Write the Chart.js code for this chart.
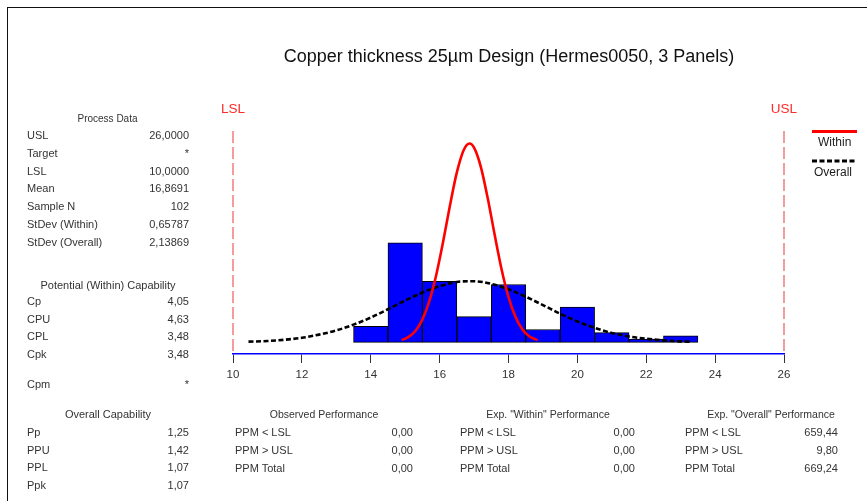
<!DOCTYPE html>
<html>
<head>
<meta charset="utf-8">
<title>Copper thickness capability</title>
<script src="https://cdn.jsdelivr.net/npm/chart.js@4.4.1/dist/chart.umd.min.js"></script>
<style>
  html, body { margin: 0; padding: 0; background: #fff; }
  #page { position: relative; width: 867px; height: 501px; overflow: hidden;
          font-family: "Liberation Sans", Arial, sans-serif; color: #333; }
  #page canvas { position: absolute; left: 0; top: 0; }
  .frame-top  { position: absolute; left: 7px; top: 7px; right: 0; border-top: 1px solid #111; }
  .frame-left { position: absolute; left: 7px; top: 7px; bottom: 0; border-left: 1px solid #111; }
  .t { position: absolute; white-space: nowrap; line-height: 1; transform: translate(0, -50%); }
  .t.c { transform: translate(-50%, -50%); }
  .t.r { transform: translate(-100%, -50%); }
  #legend { position: absolute; left: 0; top: 0; }
</style>
</head>
<body>
<div id="page">
  <canvas id="cap" width="867" height="501"></canvas>
  <div class="frame-top"></div>
  <div class="frame-left"></div>
  <svg id="legend" width="867" height="501">
    <line x1="812" y1="131.5" x2="857" y2="131.5" stroke="#ff0000" stroke-width="3"/>
    <line x1="812" y1="161" x2="857" y2="161" stroke="#000" stroke-width="3" stroke-dasharray="5 2.5"/>
  </svg>
</div>
<script>
// Histogram of copper thickness (µm): bin centres and counts per bin
const binCenters = [14, 15, 16, 17, 18, 19, 20, 21, 22, 23];
const binCounts  = [5, 31, 19, 8, 18, 4, 11, 3, 1, 2];

// "Within" fitted curve (expected counts per bin width)
const withinX = [14.9, 15.1, 15.3, 15.5, 15.7, 15.9, 16.1, 16.3, 16.5, 16.7, 16.87,
                 17.0, 17.2, 17.4, 17.6, 17.8, 18.0, 18.2, 18.4, 18.6, 18.84];
const withinY = [0.7, 1.7, 3.6, 7.1, 12.8, 20.9, 31.2, 42.6, 52.9, 59.9, 61.9,
                 60.6, 54.5, 44.7, 33.4, 22.7, 14.1, 8.0, 4.1, 1.9, 0.7];

// "Overall" fitted curve
const overallX = [10.45, 11, 11.5, 12, 12.5, 13, 13.5, 14, 14.5, 15, 15.5, 16, 16.5, 16.87,
                  17, 17.5, 18, 18.5, 19, 19.5, 20, 20.5, 21, 21.5, 22, 22.5, 23, 23.28];
const overallY = [0.2, 0.4, 0.8, 1.4, 2.4, 3.7, 5.5, 7.7, 10.3, 13.0, 15.5, 17.5, 18.8, 19.0,
                  19.0, 18.2, 16.5, 14.2, 11.6, 8.9, 6.5, 4.5, 2.9, 1.8, 1.1, 0.6, 0.3, 0.2];

// Specification limits
const specNames  = ['LSL', 'USL'];
const specLimits = [10, 26];

// Tick labels of the thickness axis
const xTickValues = [10, 12, 14, 16, 18, 20, 22, 24, 26];

// Statistics tables
const processLabels = ['USL', 'Target', 'LSL', 'Mean', 'Sample N', 'StDev (Within)', 'StDev (Overall)'];
const processValues = ['26,0000', '*', '10,0000', '16,8691', '102', '0,65787', '2,13869'];
const withinCapLabels = ['Cp', 'CPU', 'CPL', 'Cpk'];
const withinCapValues = ['4,05', '4,63', '3,48', '3,48'];
const cpmLabels = ['Cpm'];
const cpmValues = ['*'];
const overallCapLabels = ['Pp', 'PPU', 'PPL', 'Ppk'];
const overallCapValues = ['1,25', '1,42', '1,07', '1,07'];
const ppmLabels = ['PPM < LSL', 'PPM > USL', 'PPM Total'];
const observedPPM = ['0,00', '0,00', '0,00'];
const withinPPM   = ['0,00', '0,00', '0,00'];
const overallPPM  = ['659,44', '9,80', '669,24'];

const Y_MIN = -3.64, Y_MAX = 65.8;
const FONT = '"Liberation Sans", Arial, sans-serif';

const page = document.getElementById('page');
function put(text, x, y, opts) {
  opts = opts || {};
  const d = document.createElement('div');
  d.className = 't' + (opts.align === 'center' ? ' c' : opts.align === 'right' ? ' r' : '');
  d.textContent = text;
  d.style.left = x + 'px';
  d.style.top = y + 'px';
  d.style.fontSize = (opts.size || 11) + 'px';
  if (opts.color) d.style.color = opts.color;
  page.appendChild(d);
  return d;
}
function table(labels, values, xLabel, xValueRight, yStart, step) {
  labels.forEach((lab, i) => {
    put(lab, xLabel, yStart + i * step);
    put(values[i], xValueRight, yStart + i * step, { align: 'right' });
  });
}

// Title
put('Copper thickness 25µm Design (Hermes0050, 3 Panels)', 509, 56, { align: 'center', size: 18, color: '#111' });

// Left column
put('Process Data', 107.5, 119, { align: 'center', size: 10 });
table(processLabels, processValues, 27, 189, 135.3, 17.7);
put('Potential (Within) Capability', 108, 285, { align: 'center' });
table(withinCapLabels, withinCapValues, 27, 189, 301, 17.5);
table(cpmLabels, cpmValues, 27, 189, 384, 17.5);
put('Overall Capability', 108, 414, { align: 'center' });
table(overallCapLabels, overallCapValues, 27, 189, 432, 17.5);

// Performance tables
put('Observed Performance', 324, 414, { align: 'center', size: 10.5 });
table(ppmLabels, observedPPM, 235, 413, 432, 18);
put('Exp. "Within" Performance', 548, 414, { align: 'center', size: 10.5 });
table(ppmLabels, withinPPM, 460, 635, 432, 18);
put('Exp. "Overall" Performance', 771, 414, { align: 'center', size: 10.5 });
table(ppmLabels, overallPPM, 685, 838, 432, 18);

// Legend labels
put('Within', 818, 141.5, { size: 12, color: '#222' });
put('Overall', 814, 171.5, { size: 12, color: '#222' });

const specSets = specLimits.map((v, i) => ({
  type: 'line',
  label: specNames[i],
  data: [{ x: v, y: Y_MAX }, { x: v, y: Y_MIN }],
  borderColor: '#f05a5a',
  borderWidth: 1.2,
  borderDash: [12, 4],
  pointRadius: 0,
  clip: false,
  order: 4
}));

const chart = new Chart(document.getElementById('cap'), {
  type: 'bar',
  data: {
    datasets: [
      {
        type: 'line', label: 'Within',
        data: withinX.map((x, i) => ({ x, y: withinY[i] })),
        borderColor: '#ff0000', borderWidth: 2.6, pointRadius: 0,
        cubicInterpolationMode: 'monotone', fill: false, order: 1
      },
      {
        type: 'line', label: 'Overall',
        data: overallX.map((x, i) => ({ x, y: overallY[i] })),
        borderColor: '#000', borderWidth: 2.6, borderDash: [5, 2.5], pointRadius: 0,
        cubicInterpolationMode: 'monotone', fill: false, order: 2
      },
      {
        type: 'bar', label: 'Thickness',
        data: binCenters.map((x, i) => ({ x, y: binCounts[i] })),
        backgroundColor: '#0000ff', borderColor: '#000', borderWidth: 1,
        borderSkipped: false, barPercentage: 1, categoryPercentage: 1, order: 3
      },
      ...specSets
    ]
  },
  options: {
    responsive: false,
    animation: false,
    events: [],
    layout: { padding: { left: 233, right: 83, top: 131, bottom: 107 } },
    plugins: { legend: { display: false }, tooltip: { enabled: false }, title: { display: false } },
    scales: {
      x: {
        type: 'linear', min: 10, max: 26, offset: false,
        afterBuildTicks: s => { s.ticks = xTickValues.map(v => ({ value: v })); },
        afterFit: s => { s.height = 40; },
        grid: { offset: false, drawOnChartArea: false, drawTicks: true, tickLength: 9, color: '#333', lineWidth: 1 },
        border: { display: true, color: '#0000ff', width: 1.6 },
        ticks: { font: { family: FONT, size: 11.5 }, color: '#333', padding: 5, maxRotation: 0, autoSkip: false }
      },
      y: { display: false, min: Y_MIN, max: Y_MAX }
    }
  }
});

// Limit labels above their dashed lines
specLimits.forEach((v, i) => {
  put(specNames[i], chart.scales.x.getPixelForValue(v), 109, { align: 'center', size: 13.5, color: '#ff2a2a' });
});
</script>
</body>
</html>
